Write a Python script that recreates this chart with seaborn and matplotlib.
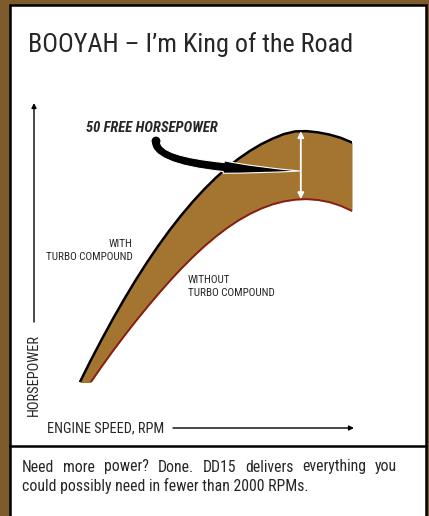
import matplotlib
matplotlib.use("Agg")
import matplotlib.pyplot as plt
from matplotlib.patches import Rectangle, FancyArrowPatch, Circle
import seaborn as sns

# engine speed and horsepower
rpm = [1000, 1050, 1100, 1150, 1200, 1250, 1300, 1350, 1400, 1450, 1500, 1550, 1600,
       1650, 1700, 1750, 1800, 1850, 1900, 1950, 2000, 2050, 2100, 2150, 2200]
hp_with_turbo = [413.6, 430.4, 446.4, 461.8, 476.4, 490.3, 503.4, 515.7, 527.2, 537.9,
                 547.8, 556.9, 565.2, 572.7, 579.3, 585.1, 590.1, 594.2, 597.6, 599.6,
                 599.8, 598.9, 597.3, 594.9, 591.4]
hp_without_turbo = [401.8, 414.4, 426.5, 438.1, 449.2, 459.9, 470.2, 480.1, 489.6, 498.6,
                    507.0, 514.8, 521.9, 528.3, 533.9, 538.7, 542.7, 545.8, 548.0, 549.3,
                    549.7, 549.1, 547.5, 544.8, 541.0]
peak_rpm = 1975

title = "BOOYAH – I’m King of the Road"
callout = "50 FREE HORSEPOWER"
with_label = "WITH\nTURBO COMPOUND"
without_label = "WITHOUT\nTURBO COMPOUND"
ylabel = "HORSEPOWER"
xlabel = "ENGINE SPEED, RPM"
blurb = ["Need more power? Done. DD15 delivers everything you",
         "could possibly need in fewer than 2000 RPMs."]

sns.set_theme(style="white")
plt.rcParams["font.family"] = ["Roboto Condensed", "DejaVu Sans"]

wood = "#7d5b2b"
band = "#a37531"
dark_red = "#8a1c10"

fig = plt.figure(figsize=(4.29, 5.16), dpi=100, facecolor=wood)

# overlay in pixel units for the card, labels and arrows
ov = fig.add_axes([0, 0, 1, 1])
ov.set_xlim(0, 429)
ov.set_ylim(516, 0)
ov.axis("off")
ov.add_patch(Rectangle((10, 5), 416, 520, facecolor="white", edgecolor="black", lw=1.8))
ov.plot([10, 426], [446, 446], color="black", lw=1.8)

ov.text(28, 52, title, fontsize=18.8, va="baseline", ha="left")
ov.text(86, 132.5, callout, fontsize=10.5, fontweight="bold", style="italic",
        va="baseline", ha="left")
ov.text(132.5, 259.5, with_label, fontsize=8, ha="right", va="baseline",
        multialignment="right", linespacing=1.35)
ov.text(188, 296, without_label, fontsize=8, ha="left", va="baseline",
        linespacing=1.35)
ov.text(34, 416, ylabel, fontsize=10.4, rotation=90, ha="center", va="bottom")
ov.text(47, 428, xlabel, fontsize=10.3, ha="left", va="center")

ov.annotate("", xy=(34, 103), xytext=(34, 322),
            arrowprops=dict(arrowstyle="-|>", color="black", lw=1.0,
                            mutation_scale=7, shrinkA=0, shrinkB=0))
ov.annotate("", xy=(354, 428), xytext=(173, 428),
            arrowprops=dict(arrowstyle="-|>", color="black", lw=1.0,
                            mutation_scale=7, shrinkA=0, shrinkB=0))

# justified paragraph
renderer = fig.canvas.get_renderer()
for i, line in enumerate(blurb):
    y = 471.5 + i * 20
    words = line.split()
    if i < len(blurb) - 1:
        texts = [ov.text(0, y, w, fontsize=11.3, va="baseline") for w in words]
        widths = [t.get_window_extent(renderer=renderer).width for t in texts]
        gap = (397 - 22 - sum(widths)) / (len(words) - 1)
        x = 22
        for t, w in zip(texts, widths):
            t.set_x(x)
            x += w + gap
    else:
        ov.text(22, y, line, fontsize=11.3, va="baseline")

# data axes
ax = fig.add_axes([79 / 429, (516 - 382) / 516, 273 / 429, 262 / 516])
ax.patch.set_alpha(0)
ax.fill_between(rpm, hp_without_turbo, hp_with_turbo, color=band, lw=0)
sns.lineplot(x=rpm, y=hp_with_turbo, ax=ax, color="black", lw=1.8)
sns.lineplot(x=rpm, y=hp_without_turbo, ax=ax, color=dark_red, lw=1.4)
ax.set_xlim(1000, 2200)
ax.set_ylim(415, 608)
ax.axis("off")

ax.annotate("", xy=(peak_rpm, max(hp_with_turbo)), xytext=(peak_rpm, max(hp_without_turbo)),
            arrowprops=dict(arrowstyle="<|-|>", color="white", lw=1.3,
                            mutation_scale=9, shrinkA=0, shrinkB=0))

curl = FancyArrowPatch((156, 141), (300, 171), transform=ov.transData,
                       connectionstyle="angle3,angleA=-95,angleB=179",
                       arrowstyle="simple,head_length=55,head_width=9,tail_width=6.5",
                       mutation_scale=1, shrinkA=0, shrinkB=0,
                       facecolor="black", edgecolor="white",
                       lw=0.8, clip_on=False, zorder=5)
ax.add_patch(curl)
ax.add_patch(Circle((156, 141), 4.4, transform=ov.transData, facecolor="black",
                    lw=0, clip_on=False, zorder=6))

fig.savefig("out.png", dpi=100, facecolor=wood)
